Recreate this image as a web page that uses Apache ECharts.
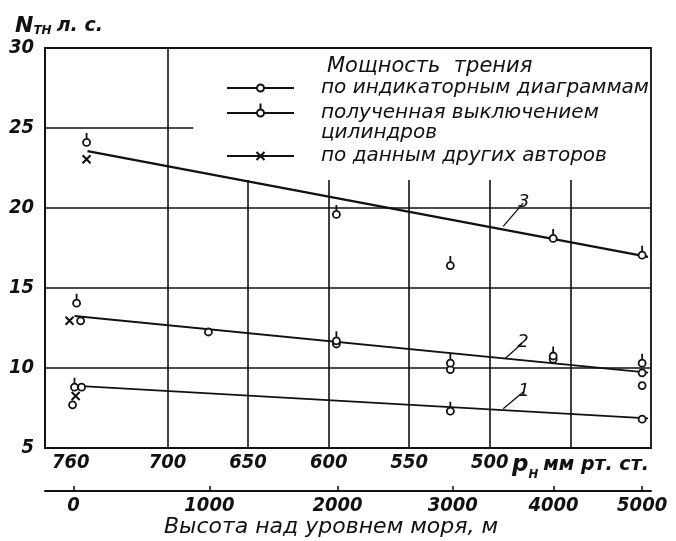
<!DOCTYPE html>
<html>
<head>
<meta charset="utf-8">
<script src="https://cdn.jsdelivr.net/npm/echarts@6/dist/echarts.min.js"></script>
<style>
  html, body { margin: 0; padding: 0; background: #fff; }
  #chart { width: 676px; height: 541px; }
</style>
</head>
<body>
<div id="chart"></div>
<script>
// Pressure scale (mm Hg) along the bottom, altitude scale (m) below it.
const pressureTicks = [760, 700, 650, 600, 550, 500];
const altitudeTicks = [0, 1000, 2000, 3000, 4000, 5000];
const altitudePressure = [758.3, 674, 594.5, 523, 460.5, 405.5];
const powerTicks = [5, 10, 15, 20, 25, 30];

// Measured friction power, [p_H mm Hg, N_TH h.p.]
const indicatorPoints = [
  [753.9, 12.95], [753.3, 8.8], [758.9, 7.7], [674.6, 12.25],
  [595.2, 11.5], [524.5, 9.9], [460.7, 10.55],
  [405.5, 9.7], [405.5, 8.9], [405.5, 6.8]
];
const cutoutPoints = [
  [756.4, 14.05], [757.7, 8.8], [750.2, 24.1],
  [595.2, 19.6], [595.2, 11.7],
  [524.5, 16.4], [524.5, 10.3], [524.5, 7.3],
  [460.7, 18.1], [460.7, 10.75],
  [405.5, 17.05], [405.5, 10.3]
];
const otherAuthorsPoints = [[750.2, 23.05], [760.8, 12.95], [757, 8.25]];

// Averaging lines 1, 2, 3
const fitLine1 = [[753.3, 8.87], [401.8, 6.85]];
const fitLine2 = [[757.7, 13.25], [401.8, 9.71]];
const fitLine3 = [[749.6, 23.56], [401.8, 16.95]];

const seriesNames = [
  'по индикаторным диаграммам',
  'полученная выключением цилиндров',
  'по данным других авторов'
];

const INK = '#111';
const tickFont = { fontFamily: 'DejaVu Sans Condensed', fontStyle: 'italic', fontWeight: 'bold', fontSize: 20, color: INK };
const textFont = { fontFamily: 'DejaVu Sans', fontStyle: 'italic', fontSize: 20, color: INK };

// Marker shapes. The tick-circle path is padded to a square box
// (zero-length moves at the corners) so it is never stretched.
const tickCircle = 'path://M-2.5,13 L-2.5,13 M10.5,13 L10.5,13 M4,0 L4,6 ' +
  'M0.5,9.5 C0.5,7.567 2.067,6 4,6 C5.933,6 7.5,7.567 7.5,9.5 ' +
  'C7.5,11.433 5.933,13 4,13 C2.067,13 0.5,11.433 0.5,9.5 Z';
const crossMark = 'path://M0,0 L8,8 M0,8 L8,0';
// Legend icons: a line with the marker in its middle
const iconCircle = 'path://M0,4.5 L30,4.5 M37,4.5 L67,4.5 M30,4.5 A3.5,3.5 0 1,0 37,4.5 A3.5,3.5 0 1,0 30,4.5 Z';
const iconTickCircle = 'path://M0,9.5 L30,9.5 M37,9.5 L67,9.5 M33.5,0 L33.5,6 M30,9.5 A3.5,3.5 0 1,0 37,9.5 A3.5,3.5 0 1,0 30,9.5 Z M33.5,19 L33.5,19';
const iconCross = 'path://M0,4 L67,4 M29.5,0 L37.5,8 M29.5,8 L37.5,0';

const P_MIN = 400, P_MAX = 776, N_MIN = 5, N_MAX = 30;

// Ruled grid: full rows, short row at 25, columns stopping below the legend
const fullRows = [20, 15, 10];
const shortCols = [650, 600, 550, 500, 450];
const gridSegments = [];
fullRows.forEach(v => gridSegments.push([[P_MAX, v], [P_MIN, v]]));
gridSegments.push([[P_MAX, 25], [684, 25]]);
gridSegments.push([[700, N_MIN], [700, N_MAX]]);
shortCols.forEach(p => gridSegments.push([[p, N_MIN], [p, 21.75]]));

function seg(pair, extra) {
  return [Object.assign({ coord: pair[0] }, extra || {}), { coord: pair[1] }];
}

function fitSeries(data, width, leader, labelText) {
  return {
    type: 'line', data: data, symbol: 'none', silent: true, z: 3,
    lineStyle: { color: INK, width: width },
    markLine: {
      silent: true, symbol: ['none', 'none'], animation: false,
      lineStyle: { color: INK, width: 1.3, type: 'solid' },
      label: {
        show: true, position: 'end', distance: 1, formatter: labelText,
        fontFamily: 'DejaVu Sans', fontStyle: 'italic', fontSize: 18, color: INK
      },
      data: [seg(leader)]
    }
  };
}

function legendBlock(name, icon, itemHeight, top, formatter) {
  return {
    data: [{ name: name, icon: icon }],
    orient: 'vertical', left: 226, top: top, padding: 0,
    itemWidth: 111, itemHeight: itemHeight, symbolKeepAspect: true,
    selectedMode: false,
    itemStyle: { color: '#fff', borderColor: INK, borderWidth: 2 },
    textStyle: Object.assign({}, textFont, { lineHeight: 20 }),
    formatter: formatter || '{name}'
  };
}

const chart = echarts.init(document.getElementById('chart'), null, { renderer: 'canvas' });
chart.setOption({
  animation: false,
  backgroundColor: '#fff',
  title: [
    {
      text: '{n|N}{s|ТН} {u|л. с.}', left: 10, top: 10,
      textStyle: {
        rich: {
          n: { fontFamily: 'DejaVu Sans', fontStyle: 'italic', fontSize: 22, color: INK },
          s: { fontFamily: 'DejaVu Sans', fontStyle: 'italic', fontSize: 12, color: INK, padding: [10, 0, 0, 0] },
          u: { fontFamily: 'DejaVu Sans', fontStyle: 'italic', fontSize: 19, color: INK }
        }
      }
    },
    {
      text: 'Мощность  трения', left: 322, top: 51,
      textStyle: Object.assign({}, textFont, { fontSize: 21, fontWeight: 'normal' })
    },
    {
      text: '{p|р}{s|Н} {u|мм рт. ст.}', left: 507, top: 445,
      textStyle: {
        rich: {
          p: { fontFamily: 'DejaVu Sans', fontStyle: 'italic', fontSize: 23, color: INK },
          s: { fontFamily: 'DejaVu Sans Condensed', fontStyle: 'italic', fontWeight: 'bold', fontSize: 13, color: INK, padding: [18, 0, 0, 0] },
          u: { fontFamily: 'DejaVu Sans', fontStyle: 'italic', fontSize: 19, color: INK }
        }
      }
    }
  ],
  legend: [
    legendBlock(seriesNames[0], iconCircle, 7, 78),
    legendBlock(seriesNames[1], iconTickCircle, 19, 83,
      () => '\nполученная выключением\nцилиндров'),
    legendBlock(seriesNames[2], iconCross, 8, 146)
  ],
  grid: {
    left: 45, right: 25, top: 48, bottom: 93,
    outerBoundsMode: 'none', containLabel: false,
    show: true, borderColor: INK, borderWidth: 1.8, backgroundColor: 'transparent'
  },
  xAxis: [
    {
      type: 'value', min: P_MIN, max: P_MAX, inverse: true, position: 'bottom',
      axisLine: { show: true, lineStyle: { color: INK, width: 2 } },
      axisTick: { show: false },
      splitLine: { show: false },
      axisLabel: Object.assign({ customValues: pressureTicks, margin: 5 }, tickFont)
    },
    {
      type: 'value', min: P_MIN, max: P_MAX, inverse: true, position: 'bottom', offset: 43,
      axisLine: { show: true, onZero: false, lineStyle: { color: INK, width: 2 } },
      axisTick: { show: true, inside: true, length: 5, customValues: altitudePressure, lineStyle: { color: INK, width: 1.5 } },
      splitLine: { show: false },
      axisLabel: Object.assign({
        customValues: altitudePressure, margin: 5,
        formatter: v => {
          const i = altitudePressure.indexOf(v);
          return i >= 0 ? String(altitudeTicks[i]) : '';
        }
      }, tickFont),
      name: 'Высота над уровнем моря, м',
      nameLocation: 'middle', nameGap: 25, nameMoveOverlap: false,
      nameTextStyle: Object.assign({}, textFont, { fontSize: 22, padding: [0, 34, 0, 0] })
    }
  ],
  yAxis: {
    type: 'value', min: N_MIN, max: N_MAX, interval: 5,
    axisLine: { show: true, lineStyle: { color: INK, width: 2 } },
    axisTick: { show: false },
    splitLine: { show: false },
    axisLabel: Object.assign({ margin: 11, customValues: powerTicks }, tickFont)
  },
  series: [
    {
      type: 'line', data: [], silent: true, z: 1,
      markLine: {
        silent: true, symbol: ['none', 'none'], animation: false,
        label: { show: false },
        lineStyle: { color: INK, width: 1.6, type: 'solid' },
        data: gridSegments.map(s => seg(s))
      }
    },
    fitSeries(fitLine1, 1.9, [[491.7, 7.45], [479.3, 8.5]], '1'),
    fitSeries(fitLine2, 1.9, [[490.5, 10.6], [479.9, 11.55]], '2'),
    fitSeries(fitLine3, 2.3, [[491.7, 18.85], [479.3, 20.3]], '3'),
    {
      name: seriesNames[0], type: 'scatter', data: indicatorPoints, z: 5,
      symbol: 'circle', symbolSize: 7,
      itemStyle: { color: '#fff', borderColor: INK, borderWidth: 1.8, opacity: 1 }
    },
    {
      name: seriesNames[1], type: 'scatter', data: cutoutPoints, z: 5,
      symbol: tickCircle, symbolSize: 13, symbolKeepAspect: true, symbolOffset: [0, -3],
      itemStyle: { color: '#fff', borderColor: INK, borderWidth: 1.8, opacity: 1 }
    },
    {
      name: seriesNames[2], type: 'scatter', data: otherAuthorsPoints, z: 5,
      symbol: crossMark, symbolSize: [8, 8],
      itemStyle: { color: 'none', borderColor: INK, borderWidth: 2, opacity: 1 }
    }
  ]
});
</script>
</body>
</html>
